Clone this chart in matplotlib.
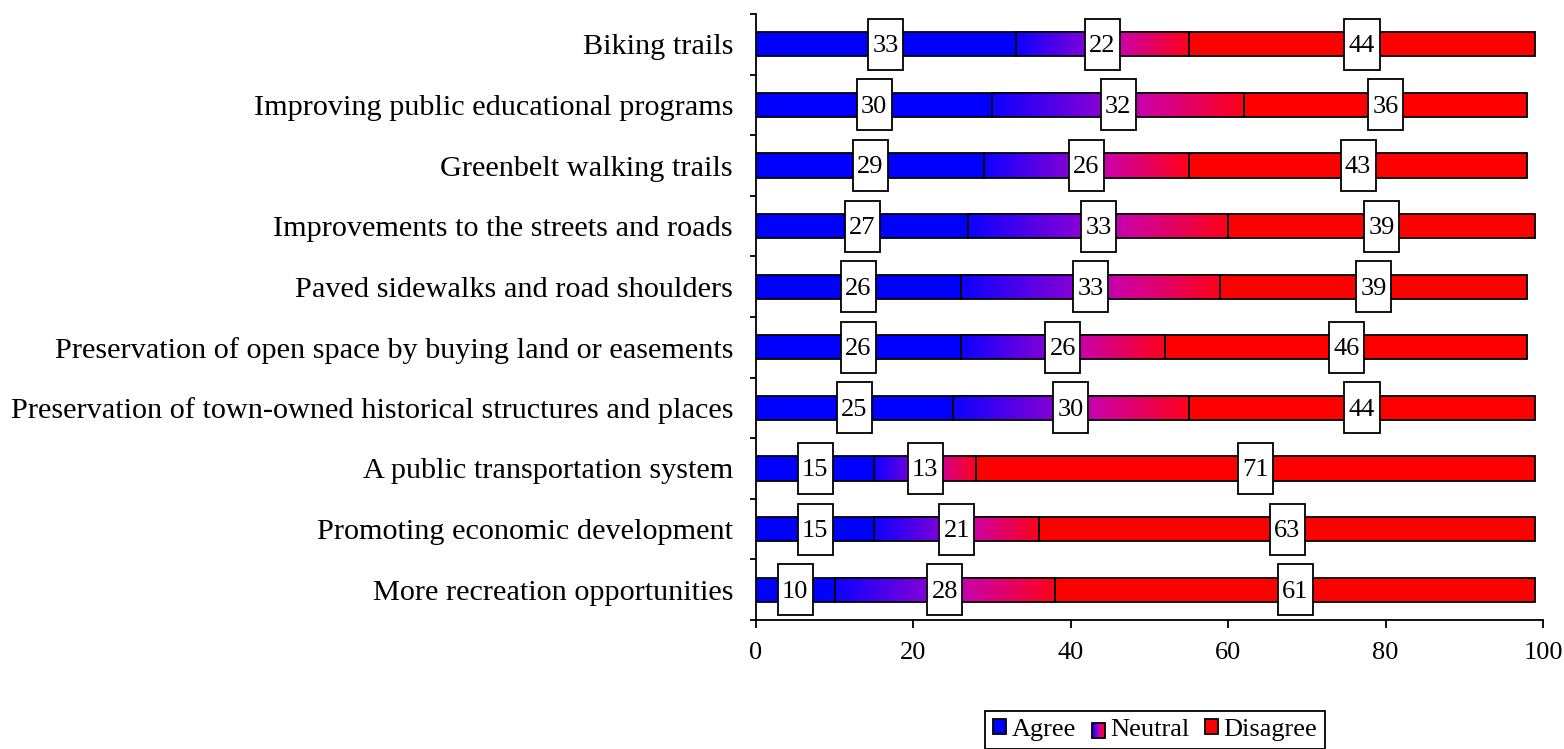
import matplotlib
matplotlib.use('Agg')
import matplotlib.pyplot as plt
import numpy as np
from matplotlib.patches import Rectangle
from matplotlib.colors import LinearSegmentedColormap
from matplotlib.legend_handler import HandlerBase

plt.rcParams['font.family'] = ['Liberation Serif', 'DejaVu Serif']

categories = ['Biking trails',
              'Improving public educational programs',
              'Greenbelt walking trails',
              'Improvements to the streets and roads',
              'Paved sidewalks and road shoulders',
              'Preservation of open space by buying land or easements',
              'Preservation of town-owned historical structures and places',
              'A public transportation system',
              'Promoting economic development',
              'More recreation opportunities']
agree = [33, 30, 29, 27, 26, 26, 25, 15, 15, 10]
neutral = [22, 32, 26, 33, 33, 26, 30, 13, 21, 28]
disagree = [44, 36, 43, 39, 39, 46, 44, 71, 63, 61]
series_names = ['Agree', 'Neutral', 'Disagree']
xticks = [0, 20, 40, 60, 80, 100]

# blue -> violet -> magenta -> red, like the excel fill
grad = LinearSegmentedColormap.from_list(
    'neutral', [(0.0, (0.05, 0.0, 1.0)), (0.45, (0.55, 0.0, 0.83)),
                (0.6, (0.8, 0.0, 0.65)), (1.0, (1.0, 0.0, 0.1))])
grad_img = np.linspace(0, 1, 256).reshape(1, -1)

fs = 19
fs_cat = 21.8
bar_h = 0.4
lw = 1.3

fig = plt.figure(figsize=(15.64, 7.49), dpi=100)
ax = fig.add_axes([756/1564, 1 - 620/749, 787/1564, 606/749])

y = np.arange(len(categories))
for i in range(len(categories)):
    a, n, d = agree[i], neutral[i], disagree[i]
    ax.barh(y[i], a, left=0, height=bar_h, color='#0000ff', edgecolor='black', linewidth=lw, zorder=2)
    ax.imshow(grad_img, cmap=grad, aspect='auto', zorder=2,
              extent=(a, a + n, y[i] + bar_h/2, y[i] - bar_h/2), interpolation='bilinear')
    ax.barh(y[i], n, left=a, height=bar_h, color='none', edgecolor='black', linewidth=lw, zorder=3)
    ax.barh(y[i], d, left=a + n, height=bar_h, color='#ff0000', edgecolor='black', linewidth=lw, zorder=2)
    # value boxes
    for start, val in [(0, a), (a, n), (a + n, d)]:
        cx = start + val / 2
        bw, bh = 4.45, 0.84
        ax.add_patch(Rectangle((cx - bw/2, y[i] - bh/2), bw, bh, facecolor='white',
                               edgecolor='black', linewidth=lw, zorder=4))
        ax.text(cx, y[i] + 0.03, str(val), ha='center', va='center', fontsize=fs, zorder=5)

ax.set_xlim(0, 100)
ax.set_ylim(len(categories) - 0.5, -0.5)
ax.set_yticks(y)
ax.set_yticklabels(categories, fontsize=fs_cat)
ax.set_yticks(np.arange(-0.5, len(categories), 1.0), minor=True)
ax.tick_params(axis='y', which='major', length=0, pad=16.5)
ax.tick_params(axis='y', which='minor', length=4.5, width=lw)
ax.set_xticks(xticks)
ax.set_xticklabels([str(t) for t in xticks], fontsize=fs)
ax.tick_params(axis='x', length=5.8, width=lw, pad=10)
ax.spines['top'].set_visible(False)
ax.spines['right'].set_visible(False)
ax.spines['left'].set_linewidth(lw)
ax.spines['bottom'].set_linewidth(lw)


class GradHandler(HandlerBase):
    def create_artists(self, legend, orig_handle, xd, yd, width, height, fontsize, trans):
        arts = []
        k = 12
        for j in range(k):
            arts.append(Rectangle((xd + width * j / k, yd), width / k + 0.3, height,
                                  facecolor=grad(j / (k - 1)), edgecolor='none', transform=trans))
        arts.append(Rectangle((xd, yd), width, height, facecolor='none',
                              edgecolor='black', linewidth=lw, transform=trans))
        return arts


h_agree = Rectangle((0, 0), 1, 1, facecolor='#0000ff', edgecolor='black', linewidth=lw)
h_neutral = Rectangle((0, 0), 1, 1, facecolor='none', edgecolor='black')
h_dis = Rectangle((0, 0), 1, 1, facecolor='#ff0000', edgecolor='black', linewidth=lw)
leg = fig.legend([h_agree, h_neutral, h_dis], series_names, loc='upper left',
                 bbox_to_anchor=(985/1564, 1 - 711/749), ncol=3, fontsize=fs,
                 handlelength=0.5, handleheight=0.5, handletextpad=0.2, columnspacing=0.6,
                 borderpad=0.3, borderaxespad=0, fancybox=False, framealpha=1, edgecolor='black',
                 handler_map={h_neutral: GradHandler()})
leg.get_frame().set_linewidth(lw)

fig.savefig('out.png', dpi=100)
